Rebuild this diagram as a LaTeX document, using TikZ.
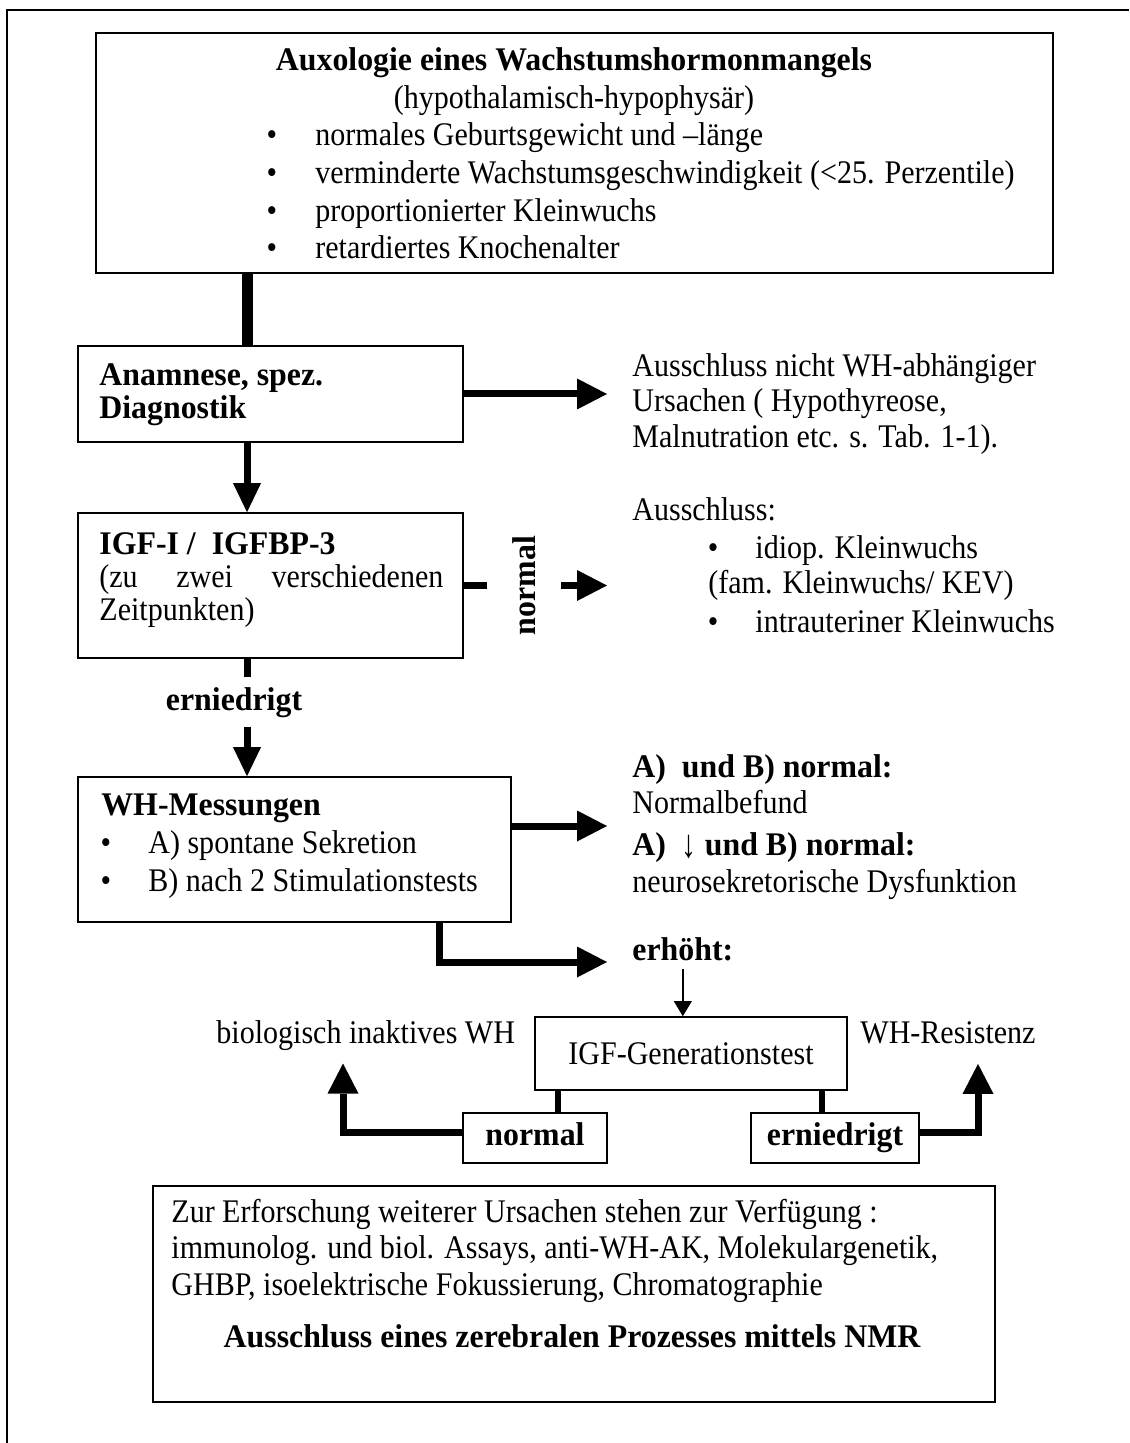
\documentclass[tikz,border=0pt]{standalone}
\usepackage{graphicx}
\usepackage{fontspec}
\setmainfont{Liberation Serif}[FakeStretch=0.91, BoldFeatures={FakeStretch=0.965}]
\usetikzlibrary{arrows.meta}
\begin{document}
\begin{tikzpicture}[x=0.5pt,y=-0.5pt,
  box/.style={draw, line width=0.8pt, inner sep=0pt, rectangle},
  txt/.style={inner sep=0pt, anchor=base west, font=\fontsize{16.5}{19}\selectfont},
  btxt/.style={inner sep=0pt, anchor=base west, font=\fontsize{16.5}{19}\selectfont\bfseries},
  ctxt/.style={txt, anchor=base},
  cbtxt/.style={btxt, anchor=base},
  thickconn/.style={line width=5.5pt},
  conn/.style={line width=3pt},
  arr/.style={line width=3.5pt, -{Triangle[length=15pt,width=15.5pt,line width=0pt]}},
  varr/.style={line width=3.5pt, -{Triangle[length=14.5pt,width=14pt,line width=0pt]}},
  thinarr/.style={line width=0.8pt, -{Triangle[length=7.5pt,width=9pt,line width=0pt]}},
  gap/.style={fill=white, inner sep=0pt, font=\fontsize{16.5}{19}\selectfont\bfseries},
  smallbox/.style={box, minimum height=25pt, text height=11pt, text depth=3.5pt, font=\fontsize{16.5}{19}\selectfont\bfseries},
]
\useasboundingbox (0,0) rectangle (1129,1443);
% outer frame
\draw[line width=1pt] (7,1443) -- (7,10) -- (1129,10);

% helper coordinates
\coordinate (cx) at (247,0);
\coordinate (ya) at (0,826);
\coordinate (xb) at (439,0);
\coordinate (yb) at (0,962);
\coordinate (xl) at (558,0);
\coordinate (xr) at (822,0);
\coordinate (yc) at (0,1132);
\coordinate (xll) at (343,0);
\coordinate (xrr) at (978,0);

% ---------- top box
\node[box, minimum width=478.5pt, minimum height=120pt] (topbox) at (574.5,153) {};
\node[cbtxt] (t0) at (574,71) {Auxologie eines Wachstumshormonmangels};
\node[ctxt] (t1) at (574,109) {(hypothalamisch-hypophysär)};
\node[ctxt] (tb1) at (272,146) {•};
\node[txt] (t2) at (315,146) {normales Geburtsgewicht und –länge};
\node[ctxt] (tb2) at (272,184) {•};
\node[txt] (t3) at (315,184) {verminderte Wachstumsgeschwindigkeit (<25. Perzentile)};
\node[ctxt] (tb3) at (272,222) {•};
\node[txt] (t4) at (315,222) {proportionierter Kleinwuchs};
\node[ctxt] (tb4) at (272,259) {•};
\node[txt] (t5) at (315,259) {retardiertes Knochenalter};

% ---------- Anamnese
\node[box, minimum width=192.5pt, minimum height=48pt] (anam) at (270.5,394) {};
\node[btxt] (an1) at (99,386) {Anamnese, spez.};
\node[btxt] (an2) at (99,419) {Diagnostik};

\node[txt] (ex1) at (632,377) {Ausschluss nicht WH-abhängiger};
\node[txt] (ex2) at (632,412) {Ursachen ( Hypothyreose,};
\node[txt] (ex3) at (632,447) {Malnutration etc. s. Tab. 1-1).};

% ---------- IGF
\node[box, minimum width=192.5pt, minimum height=72.5pt] (igf) at (270.5,585.5) {};
\node[btxt] (ig1) at (99,554) {IGF-I /\ \ IGFBP-3};
\node[txt] (ig2) at (99,587) {\makebox[172pt][s]{(zu zwei verschiedenen}};
\node[txt] (ig3) at (99,620) {Zeitpunkten)};

\node[txt] (ex4) at (632,520) {Ausschluss:};
\node[ctxt] (eb1) at (713,558) {•};
\node[txt] (ex5) at (755,558) {idiop. Kleinwuchs};
\node[txt] (ex6) at (708,593) {(fam. Kleinwuchs/ KEV)};
\node[ctxt] (eb2) at (713,632) {•};
\node[txt] (ex7) at (755,632) {intrauteriner Kleinwuchs};

% ---------- WH-Messungen
\node[box, minimum width=216.5pt, minimum height=72.5pt] (wh) at (294.5,849.5) {};
\node[btxt] (wh1) at (101,815) {WH-Messungen};
\node[ctxt] (wb1) at (106,853) {•};
\node[txt] (wt1) at (148,853) {A) spontane Sekretion};
\node[ctxt] (wb2) at (106,891) {•};
\node[txt] (wt2) at (148,891) {B) nach 2 Stimulationstests};

\node[btxt] (r1) at (632,777) {A)\ \ und B) normal:};
\node[txt] (r2) at (632,813) {Normalbefund};
\node[btxt] (r3) at (632,855) {A)\ \ {\mdseries\raisebox{-1pt}{\scalebox{1}[1.2]{↓}}} und B) normal:};
\node[txt] (r4) at (632,892) {neurosekretorische Dysfunktion};
\node[btxt] (erh) at (632,960) {erhöht:};

% ---------- IGF-Generationstest
\node[box, minimum width=156pt, minimum height=36.5pt, font=\fontsize{16.5}{19}\selectfont] (gen) at (691,1053.5) {IGF-Generationstest};
\node[txt] (bio) at (216,1043) {biologisch inaktives WH};
\node[txt] (res) at (860,1043) {WH-Resistenz};
\node[smallbox, minimum width=72pt] (nb) at (535,1138) {normal};
\node[smallbox, minimum width=84pt] (eb) at (835,1138) {erniedrigt};

% ---------- bottom box
\node[box, minimum width=421pt, minimum height=108pt] (bot) at (574,1294) {};
\node[txt] (z1) at (171,1222) {Zur Erforschung weiterer Ursachen stehen zur Verfügung :};
\node[txt] (z2) at (171,1258) {immunolog. und biol. Assays, anti-WH-AK, Molekulargenetik,};
\node[txt] (z3) at (171,1295) {GHBP, isoelektrische Fokussierung, Chromatographie};
\node[cbtxt] (z4) at (572,1347) {Ausschluss eines zerebralen Prozesses mittels NMR};

% ---------- connectors
\draw[thickconn] (topbox.south -| cx) -- (anam.north -| cx);
\draw[arr, shorten >=12.5pt] (anam.east) -- (anam.east -| ex1.west);
\draw[varr] (anam.south -| cx) -- (igf.north -| cx);
\draw[arr, shorten >=12.5pt] (igf.east) -- node[gap, pos=0.36, rotate=90, minimum height=37pt] (lblnorm) {normal} (igf.east -| ex4.west);
\draw[varr] (igf.south -| cx) -- node[gap, pos=0.37, xshift=-6.5pt, minimum height=25pt] (lblern) {erniedrigt} (wh.north -| cx);
\draw[arr, shorten >=12.5pt] (wh.east |- ya) -- (r2.west |- ya);
\draw[arr, shorten >=12.5pt] (wh.south -| xb) -- (xb |- yb) -- (erh.west |- yb);
\draw[thinarr, shorten <=4pt] (erh.south) -- (erh.south |- gen.north);
\draw[conn] (gen.south -| xl) -- (nb.north -| xl);
\draw[conn] (gen.south -| xr) -- (eb.north -| xr);
\draw[arr, shorten >=6.5pt] (nb.west |- yc) -- (xll |- yc) -- (xll |- bio.south);
\draw[arr, shorten >=10pt] (eb.east |- yc) -- (xrr |- yc) -- (xrr |- res.south);
\end{tikzpicture}
\end{document}
